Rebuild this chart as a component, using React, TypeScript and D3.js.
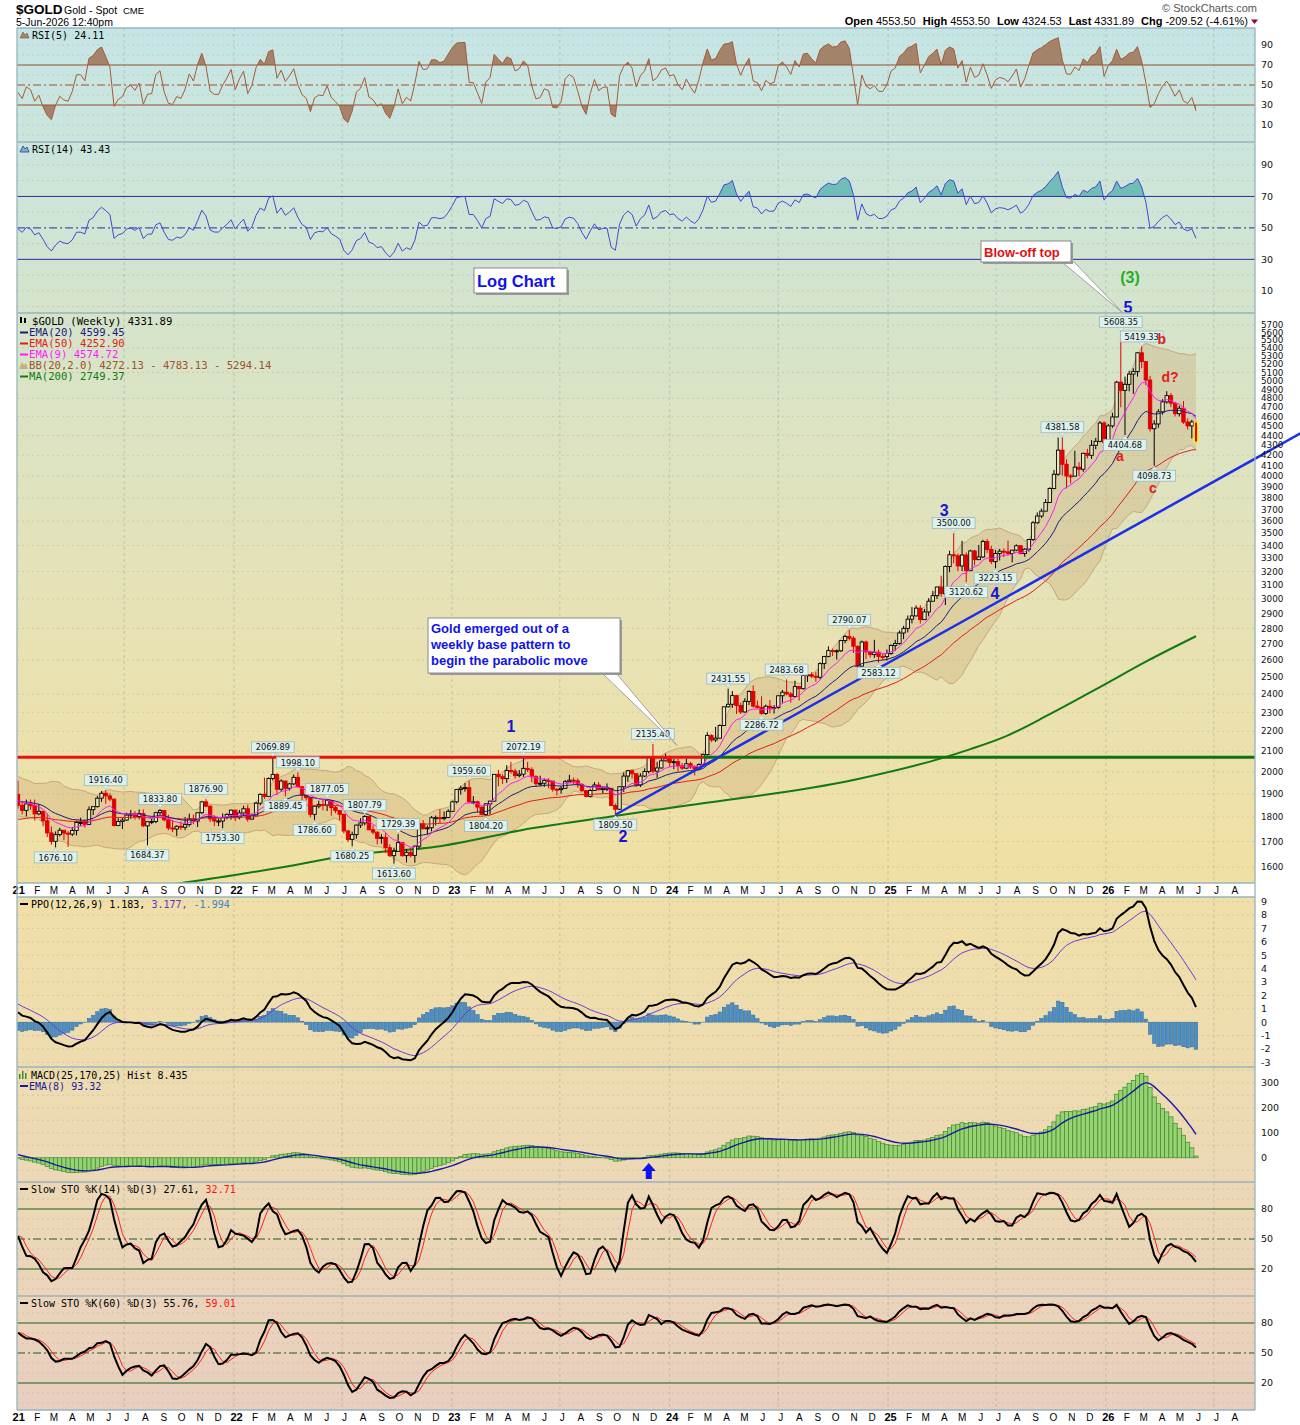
import React from "react";
import * as d3 from "d3";

// weekly bars, bar 0 = week ending Fri 8-Jan-2021, last bar = week ending 5-Jun-2026
// 2020 weekly closes only feed the indicator warm-up
const warmupCloses = [
  1552, 1562, 1557, 1571, 1589, 1570, 1584, 1643, 1585, 1674, 1530, 1498, 1617, 1620, 1683, 1683, 1729, 1700,
  1702, 1743, 1735, 1730, 1685, 1730, 1743, 1771, 1775, 1798, 1810, 1902, 1975, 2035, 1944, 1940, 1964, 1934,
  1940, 1950, 1861, 1900, 1930, 1899, 1902, 1879, 1951, 1889, 1871, 1788, 1839, 1839, 1881, 1877, 1898,
];

const closes = [
  // 2021
  1850, 1828, 1856, 1848, 1813, 1824, 1784, 1734, 1700, 1727, 1745, 1733, 1729, 1744, 1777, 1777, 1769, 1831,
  1844, 1881, 1903, 1891, 1877, 1764, 1781, 1787, 1808, 1812, 1802, 1814, 1763, 1780, 1781, 1818, 1827, 1788,
  1754, 1750, 1761, 1757, 1768, 1792, 1783, 1818, 1865, 1846, 1792, 1783, 1783, 1798, 1811, 1829,
  // 2022
  1797, 1817, 1835, 1791, 1808, 1859, 1898, 1889, 1970, 1988, 1921, 1958, 1925, 1945, 1975, 1932, 1897, 1883,
  1811, 1846, 1853, 1851, 1871, 1840, 1827, 1811, 1742, 1708, 1727, 1766, 1775, 1802, 1747, 1737, 1712, 1716,
  1675, 1644, 1661, 1695, 1644, 1657, 1645, 1681, 1771, 1751, 1755, 1797, 1797, 1793, 1798, 1824,
  // 2023
  1865, 1920, 1926, 1928, 1865, 1865, 1842, 1811, 1856, 1868, 1989, 1978, 1969, 2007, 2004, 1983, 1990, 2017,
  2011, 1978, 1946, 1948, 1961, 1958, 1921, 1919, 1925, 1955, 1962, 1959, 1943, 1914, 1889, 1915, 1940, 1919,
  1924, 1925, 1849, 1833, 1932, 1981, 2006, 1992, 1940, 1981, 2002, 2072, 2004, 2019, 2053, 2063,
  // 2024
  2045, 2049, 2029, 2018, 2039, 2024, 2013, 2035, 2083, 2179, 2156, 2165, 2230, 2330, 2344, 2392, 2337, 2302,
  2360, 2415, 2334, 2327, 2294, 2333, 2322, 2326, 2391, 2411, 2401, 2387, 2443, 2431, 2507, 2512, 2503, 2497,
  2578, 2622, 2658, 2653, 2657, 2721, 2747, 2736, 2685, 2563, 2712, 2650, 2633, 2648, 2622, 2621,
  // 2025
  2640, 2690, 2703, 2770, 2800, 2861, 2883, 2936, 2858, 2910, 2984, 3023, 3085, 3037, 3237, 3327, 3319, 3241,
  3325, 3205, 3357, 3289, 3310, 3432, 3368, 3274, 3337, 3355, 3350, 3337, 3363, 3398, 3336, 3371, 3448, 3586,
  3643, 3685, 3760, 3886, 4018, 4251, 4113, 4002, 4000, 4085, 4065, 4220, 4200, 4300, 4340, 4530,
  // 2026
  4330, 4500, 4595, 4985, 4890, 4960, 5080, 5110, 5340, 5230, 5010, 4470, 4520, 4650, 4760, 4830, 4745, 4630,
  4690, 4540, 4500, 4541.41, 4331.89,
];

const highs = [
  1959, 1865, 1875, 1875, 1875, 1855, 1826, 1815, 1760, 1740, 1755, 1745, 1741, 1758, 1785, 1797, 1790, 1845,
  1846, 1890, 1913, 1916.4, 1903, 1878, 1795, 1795, 1818, 1830, 1825, 1832, 1832, 1782, 1795, 1822, 1833.8, 1828,
  1809, 1788, 1765, 1781, 1800, 1814, 1810, 1820, 1869, 1876.9, 1849, 1808, 1793, 1815, 1815, 1831,
  1831, 1830, 1848, 1853, 1815, 1865, 1902, 1974, 1975, 2069.89, 1995, 1966, 1960, 1950, 1988, 1998.1, 1936, 1910,
  1884, 1849, 1870, 1874, 1877.05, 1870, 1847, 1829, 1814, 1745, 1739, 1768, 1795, 1807.79, 1802, 1765, 1740, 1729,
  1735, 1688, 1675, 1729.39, 1688, 1670, 1675, 1684, 1773, 1787, 1764, 1804, 1806, 1833, 1823, 1833,
  1870, 1922, 1937, 1949, 1959.6, 1890, 1870, 1845, 1858, 1870, 1989, 2010, 1989, 2032, 2048, 2015, 2009, 2072.19,
  2048, 2022, 1985, 1983, 1970, 1971, 1959, 1925, 1935, 1963, 1987, 1974, 1970, 1948, 1916, 1922, 1953, 1953,
  1933, 1947, 1926, 1857, 1933, 1997, 2010, 2010, 1975, 1994, 2017, 2075, 2135.4, 2048, 2071, 2088,
  2078, 2062, 2062, 2042, 2065, 2048, 2032, 2041, 2088, 2195, 2185, 2223, 2236, 2331, 2431.55, 2418, 2396, 2353,
  2378, 2422, 2450, 2364, 2388, 2342, 2368, 2339, 2392, 2424, 2483.68, 2412, 2477, 2437, 2509, 2531, 2528, 2529,
  2586, 2625, 2685, 2670, 2665, 2722, 2758, 2790.07, 2750, 2690, 2721, 2721, 2658, 2726, 2664, 2640,
  2665, 2697, 2726, 2786, 2817, 2886, 2943, 2955, 2956, 2930, 3005, 3057, 3087, 3168, 3245, 3358, 3500, 3336,
  3437, 3345, 3366, 3366, 3404, 3446, 3452, 3398, 3365, 3374, 3377, 3439, 3365, 3409, 3404, 3378, 3453, 3600,
  3674, 3707, 3791, 3897, 4059, 4379, 4381.58, 4161, 4020, 4245, 4132, 4225, 4264, 4353, 4375, 4550,
  4550, 4520, 4640, 5000, 5608.35, 5050, 5120, 5150, 5350, 5419.33, 5240, 5060, 4560, 4680, 4790, 4880, 4860, 4760,
  4720, 4770, 4580, 4565, 4553.5,
];

const lows = [
  1835, 1811, 1802, 1831, 1785, 1807, 1761, 1717, 1687, 1676.1, 1720, 1705, 1678, 1721, 1724, 1763, 1756, 1767,
  1808, 1840, 1865, 1856, 1867, 1761, 1770, 1750, 1783, 1792, 1789, 1790, 1758, 1684.37, 1770, 1774, 1808, 1782,
  1745, 1737, 1721, 1746, 1745, 1760, 1770, 1758, 1812, 1843, 1778, 1762, 1762, 1753.3, 1790, 1789,
  1782, 1790, 1805, 1780, 1788, 1808, 1850, 1878, 1889, 1960, 1895, 1910, 1889.45, 1915, 1940, 1930, 1872, 1850,
  1798, 1786.6, 1837, 1828, 1825, 1805, 1816, 1785, 1732, 1697, 1680.25, 1711, 1754, 1765, 1745, 1728, 1688, 1691,
  1654, 1639, 1613.6, 1660, 1640, 1618, 1637, 1617, 1672, 1749, 1728, 1740, 1765, 1773, 1785, 1795,
  1822, 1858, 1897, 1910, 1861, 1855, 1819, 1809, 1804.2, 1810, 1867, 1934, 1945, 1950, 1992, 1969, 1975, 1977,
  2000, 1952, 1932, 1935, 1932, 1925, 1910, 1893, 1901, 1922, 1951, 1942, 1928, 1910, 1885, 1884, 1913, 1915,
  1901, 1913, 1846, 1809.5, 1830, 1908, 1954, 1970, 1932, 1931, 1976, 1993, 1995, 1973, 2016, 2050,
  2024, 2013, 2002, 2010, 2015, 2015, 1984, 2009, 2030, 2078, 2146, 2146, 2163, 2229, 2326, 2324, 2291, 2291,
  2298, 2340, 2325, 2320, 2286.72, 2287, 2295, 2293, 2319, 2353, 2394, 2353, 2382, 2364, 2426, 2470, 2493, 2471,
  2485, 2546, 2616, 2625, 2603, 2649, 2704, 2722, 2643, 2536, 2560, 2605, 2614, 2613, 2583.12, 2599,
  2596, 2632, 2656, 2695, 2730, 2773, 2833, 2880, 2832, 2857, 2880, 2982, 3000, 3015, 2957, 3194, 3260, 3203,
  3202, 3120.62, 3205, 3245, 3287, 3302, 3340, 3255, 3223.15, 3283, 3309, 3324, 3268, 3355, 3331, 3311, 3351, 3436,
  3578, 3627, 3685, 3759, 3885, 4004, 4005, 3887, 3931, 3995, 4000, 4040, 4170, 4165, 4260, 4330,
  4270, 4320, 4480, 4590, 4700, 4404.68, 4880, 4850, 5050, 5150, 4950, 4440, 4098.73, 4480, 4620, 4740, 4700, 4600,
  4600, 4520, 4460, 4370, 4324.53,
];

// 200-week MA (week index / value)
const ma200Weeks = [36, 52, 64, 78, 101, 123, 142, 161, 200, 221, 228, 236, 247, 259, 270, 282];
const ma200Values = [1535, 1571, 1602, 1643, 1681, 1753, 1802, 1851, 1963, 2065, 2110, 2170, 2290, 2440, 2590, 2749];

// swing-point price tags: week index + high/low side
const tagWeeks = [9, 21, 31, 34, 45, 49, 61, 64, 67, 71, 74, 80, 83, 90, 91, 108, 112, 121, 143, 152, 170, 178, 184, 199, 206, 224, 227, 234, 250, 264, 265, 269, 272];
const tagSides = ["L", "H", "L", "H", "H", "L", "H", "L", "H", "L", "H", "L", "H", "L", "H", "H", "L", "H", "L", "H", "H", "L", "H", "H", "L", "H", "L", "L", "H", "H", "L", "H", "L"];

// Elliott wave / annotation labels (week, price, text)
const waveWeeks = [118, 144.8, 221.7, 233.9, 265.7, 266.2, 263.8, 273.8, 271.7, 275.8];
const wavePrices = [2227, 1721, 3695, 3040, 5945, 6379, 4193, 5516, 3891, 5046];
const waveTexts = ["1", "2", "3", "4", "5", "(3)", "a", "b", "c", "d?"];
const waveColors = ["#1616d8", "#1616d8", "#1616d8", "#1616d8", "#1616d8", "#22b022", "#e01e1e", "#e01e1e", "#e01e1e", "#e01e1e"];

const resistance = 2069.89;
const resistanceSwitchWeek = 164;
const trendWeeks = [143, 307];
const trendPrices = [1809.5, 4421];

const priceTicks = d3.range(1600, 5800, 100);
const rsiTicks = [90, 70, 50, 30, 10];
const ppoTicks = [9, 8, 7, 6, 5, 4, 3, 2, 1, 0, -1, -2, -3];
const macdTicks = [300, 200, 100, 0];
const stoTicks = [80, 50, 20];
const MONTH_LETTERS = ["J", "F", "M", "A", "M", "J", "J", "A", "S", "O", "N", "D"];

// ---------- indicators ----------
const W = warmupCloses.length;
const allC = warmupCloses.concat(closes);
const allH = warmupCloses.concat(highs);
const allL = warmupCloses.concat(lows);
const opens = closes.map((_, i) => allC[W + i - 1]);

function ema(v: number[], n: number, seed?: number) {
  const k = 2 / (n + 1);
  let e = seed ?? v[0];
  return v.map((x, i) => (i === 0 && seed === undefined ? e : (e = x * k + e * (1 - k))));
}
function sma(v: number[], n: number) {
  return v.map((_, i) => d3.mean(v.slice(Math.max(0, i - n + 1), i + 1)) as number);
}
function stdev(v: number[], n: number) {
  return v.map((_, i) => {
    const w = v.slice(Math.max(0, i - n + 1), i + 1);
    const m = d3.mean(w) as number;
    return Math.sqrt(d3.mean(w, (d) => (d - m) ** 2) as number);
  });
}
function rsi(v: number[], n: number) {
  const out = v.map(() => 50);
  let ag = 0, al = 0;
  for (let i = 1; i < v.length; i++) {
    const ch = v[i] - v[i - 1];
    const g = Math.max(ch, 0), l = Math.max(-ch, 0);
    if (i <= n) { ag += g / n; al += l / n; } else { ag = (ag * (n - 1) + g) / n; al = (al * (n - 1) + l) / n; }
    out[i] = al === 0 ? 100 : 100 - 100 / (1 + ag / al);
  }
  return out;
}
function stoch(n: number) {
  const fast = allC.map((c, i) => {
    const s = Math.max(0, i - n + 1);
    const hh = d3.max(allH.slice(s, i + 1)) as number;
    const ll = d3.min(allL.slice(s, i + 1)) as number;
    return hh === ll ? 50 : ((c - ll) / (hh - ll)) * 100;
  });
  const k = sma(fast, 3);
  return { k: k.slice(W), d: sma(k, 3).slice(W) };
}
const vis = (a: number[]) => a.slice(W);

const ema9 = vis(ema(allC, 9));
const ema20 = vis(ema(allC, 20));
const ema50 = vis(ema(allC, 50, 1440));
const mid20 = sma(allC, 20);
const dev20 = stdev(allC, 20);
const bbUp = vis(mid20.map((m, i) => m + 2 * dev20[i]));
const bbLo = vis(mid20.map((m, i) => m - 2 * dev20[i]));
const rsi5 = vis(rsi(allC, 5));
const rsi14 = vis(rsi(allC, 14));
const e12 = ema(allC, 12);
const e26 = ema(allC, 26);
const ppoAll = e12.map((a, i) => ((a - e26[i]) / e26[i]) * 100);
const ppoSigAll = ema(ppoAll, 9);
const ppo = vis(ppoAll);
const ppoSig = vis(ppoSigAll);
const ppoHist = ppo.map((p, i) => p - ppoSig[i]);
const e25 = ema(allC, 25, 1480);
const e170 = ema(allC, 170, 1320);
const macdAll = e25.map((a, i) => a - e170[i]);
const macdSig = ema(macdAll, 25);
const histAll = macdAll.map((m, i) => m - macdSig[i]);
const macdHist = vis(histAll);
const macdHistEma = vis(ema(histAll, 8));
const sto14 = stoch(14);
const sto60 = stoch(60);

// ---------- layout ----------
const L = 17, R = 1255;
const P = {
  rsi5: [28, 142], rsi14: [142, 313], main: [313, 883], ppo: [897, 1067],
  macd: [1067, 1182], sto14: [1182, 1296], sto60: [1296, 1410],
};
const x = d3.scaleLinear().domain([0, 282]).range([18, 1196]);
const yP = d3.scaleLog().domain([1542, 5862]).range([883, 313]);
const yR5 = d3.scaleLinear().domain([-7, 107]).range([142, 28]);
const yR14 = d3.scaleLinear().domain([-4.1, 104.6]).range([313, 142]);
const yPPO = d3.scaleLinear().domain([-3.35, 9.35]).range([1067, 897]);
const yMACD = d3.scaleLinear().domain([-97, 363]).range([1182, 1067]);
const yS14 = d3.scaleLinear().domain([-7, 107]).range([1296, 1182]);
const yS60 = d3.scaleLinear().domain([-7, 107]).range([1410, 1296]);

const idx = d3.range(closes.length);
const weekW = x(1) - x(0);
const path = (vals: number[], ys: any) => d3.line<number>().x((i) => x(i)).y((i) => ys(vals[i]))(idx) as string;

const T0 = Date.UTC(2021, 0, 4);
const months = d3.range(0, 68).map((m) => {
  const yr = 2021 + Math.floor(m / 12);
  const mo = m % 12;
  const w = (Date.UTC(yr, mo, 1) - T0) / (7 * 86400000);
  return { x: x(w), label: mo === 0 ? String(yr % 100) : MONTH_LETTERS[mo], year: mo === 0, half: mo === 0 || mo === 6 };
});

const MONO = "DejaVu Sans Mono";
const SANS = "DejaVu Sans";
const ARIAL = "Liberation Sans";

function RightTicks({ ticks, ys, size = 9.5 }: any) {
  return (
    <g fontFamily={SANS} fontSize={size} fill="#111">
      {ticks.map((t: number) => (
        <text key={t} x={1261} y={ys(t) + size * 0.36}>{t}</text>
      ))}
    </g>
  );
}

function HLines({ vals, ys, color, dash }: any) {
  return (
    <g>
      {vals.map((v: number) => (
        <line key={v} x1={L} x2={R} y1={ys(v)} y2={ys(v)} stroke={color} strokeWidth={1} strokeDasharray={dash} />
      ))}
    </g>
  );
}

function DotGrid({ vals, ys }: any) {
  return (
    <g>
      {vals.map((v: number) => (
        <line key={v} x1={L} x2={R} y1={ys(v)} y2={ys(v)} stroke="#8a8a80" strokeOpacity={0.35} strokeWidth={0.7} strokeDasharray="2,3" />
      ))}
    </g>
  );
}

function VGrid({ top, bottom }: any) {
  return (
    <g>
      {months.filter((m) => m.half && m.x > L + 2 && m.x < R).map((m, i) => (
        <line key={i} x1={m.x} x2={m.x} y1={top} y2={bottom} stroke="#8c9c98" strokeOpacity={0.55} strokeWidth={0.8} strokeDasharray="3,3" />
      ))}
    </g>
  );
}

function MonthAxis({ y }: any) {
  return (
    <g fontFamily={ARIAL} fill="#000" textAnchor="middle">
      {months.filter((m) => m.x > L - 4 && m.x < R).map((m, i) => (
        <text key={i} x={m.x + 2.5} y={y} fontWeight={m.year ? "bold" : "normal"} fontSize={m.year ? 11 : 10}>{m.label}</text>
      ))}
    </g>
  );
}

function PriceTag({ w, side }: any) {
  const v = side === "H" ? highs[w] : lows[w];
  const cx = x(w);
  const y = yP(v);
  const txt = v.toFixed(2);
  const bw = txt.length * 5.25 + 6;
  const bh = 11;
  const top = side === "H" ? y - 4.5 - bh : y + 4.5;
  const tri = side === "H"
    ? `${cx - 3.5},${y - 4.5} ${cx + 3.5},${y - 4.5} ${cx},${y - 1}`
    : `${cx - 3.5},${y + 4.5} ${cx + 3.5},${y + 4.5} ${cx},${y + 1}`;
  return (
    <g>
      <rect x={cx - bw / 2} y={top} width={bw} height={bh} fill="#ddf1ef" stroke="#9fb8b6" strokeWidth={0.8} />
      <polygon points={tri} fill="#ddf1ef" stroke="#9fb8b6" strokeWidth={0.6} />
      <text x={cx} y={top + 8.6} textAnchor="middle" fontFamily={SANS} fontSize={8.3} fill="#111">{txt}</text>
    </g>
  );
}

export default function App() {
  const gradStops: [number, string][] = [
    [28, "#c5e5e5"], [142, "#cbe5dd"], [313, "#d5e4cb"], [600, "#e6e2b6"], [883, "#f1e0a4"],
    [897, "#f0dfa8"], [1067, "#eedcb0"], [1182, "#ecd8b6"], [1296, "#ebd4ba"], [1410, "#e8cebf"],
  ];

  const mainClip = "url(#cMain)";
  const bbArea = d3.area<number>().x((i) => x(i)).y0((i) => yP(bbLo[i])).y1((i) => yP(bbUp[i]))(idx) as string;
  const ma200Path = d3.line<number>().curve(d3.curveMonotoneX).x((i) => x(ma200Weeks[i])).y((i) => yP(ma200Values[i]))(d3.range(ma200Weeks.length)) as string;

  const rsiArea = (vals: number[], ys: any, lvl: number) =>
    d3.area<number>().x((i) => x(i)).y0(ys(lvl)).y1((i) => ys(vals[i]))(idx) as string;

  const gridPrices: number[] = [];
  priceTicks.forEach((p) => {
    const last = gridPrices[gridPrices.length - 1];
    if (last === undefined || yP(last) - yP(p) >= 18) gridPrices.push(p);
  });

  const last = closes.length - 1;

  return (
    <svg width={1300} height={1425} style={{ position: "absolute", left: 0, top: 0, background: "#fff" }} fontFamily={SANS}>
      <defs>
        <linearGradient id="bg" gradientUnits="userSpaceOnUse" x1={0} y1={28} x2={0} y2={1410}>
          {gradStops.map(([y, c]) => (
            <stop key={y} offset={(y - 28) / 1382} stopColor={c} />
          ))}
        </linearGradient>
        {Object.entries(P).map(([k, [t, b]]) => (
          <clipPath id={"c" + k[0].toUpperCase() + k.slice(1)} key={k}>
            <rect x={L} y={t} width={R - L} height={b - t} />
          </clipPath>
        ))}
        <clipPath id="r5hi"><rect x={L} y={28} width={R - L} height={yR5(70) - 28} /></clipPath>
        <clipPath id="r5lo"><rect x={L} y={yR5(30)} width={R - L} height={142 - yR5(30)} /></clipPath>
        <clipPath id="r14hi"><rect x={L} y={142} width={R - L} height={yR14(70) - 142} /></clipPath>
        <clipPath id="r14lo"><rect x={L} y={yR14(30)} width={R - L} height={313 - yR14(30)} /></clipPath>
      </defs>

      {/* header */}
      <text x={16} y={14} fontFamily={ARIAL} fontWeight="bold" fontSize={13.5}>$GOLD</text>
      <text x={64} y={14} fontFamily={ARIAL} fontSize={10.5}>Gold - Spot</text>
      <text x={123} y={14} fontFamily={ARIAL} fontSize={9.5}>CME</text>
      <text x={16} y={26} fontFamily={ARIAL} fontSize={10.5}>5-Jun-2026 12:40pm</text>
      <text x={1257} y={12} textAnchor="end" fontFamily={ARIAL} fontSize={11} fill="#555">© StockCharts.com</text>
      <text x={1248} y={25} textAnchor="end" fontFamily={ARIAL} fontSize={11}>
        <tspan fontWeight="bold">Open</tspan><tspan dx={3}>4553.50</tspan>
        <tspan dx={7} fontWeight="bold">High</tspan><tspan dx={3}>4553.50</tspan>
        <tspan dx={7} fontWeight="bold">Low</tspan><tspan dx={3}>4324.53</tspan>
        <tspan dx={7} fontWeight="bold">Last</tspan><tspan dx={3}>4331.89</tspan>
        <tspan dx={7} fontWeight="bold">Chg</tspan><tspan dx={3}>-209.52 (-4.61%)</tspan>
      </text>
      <polygon points="1251,19.5 1258,19.5 1254.5,24" fill="#990033" />

      {/* panel background */}
      <rect x={L} y={28} width={R - L} height={1382} fill="url(#bg)" />
      <rect x={L} y={883} width={R - L} height={14} fill="#fff" />
      <rect x={L} y={1410} width={R - L} height={15} fill="#fff" />

      {/* grids */}
      {[P.rsi5, P.rsi14, P.main, P.ppo, P.macd, P.sto14, P.sto60].map(([t, b], i) => (
        <VGrid key={i} top={t} bottom={b} />
      ))}
      <DotGrid vals={[0, 10, 20, 40, 60, 80, 90, 100]} ys={yR5} />
      <DotGrid vals={[0, 10, 20, 40, 60, 80, 90, 100]} ys={yR14} />
      <DotGrid vals={gridPrices} ys={yP} />
      <DotGrid vals={[9, 8, 7, 6, 5, 4, 3, 2, 1, -1, -2, -3]} ys={yPPO} />
      <DotGrid vals={[350, 300, 250, 200, 150, 100, 50, -50]} ys={yMACD} />
      <DotGrid vals={[0, 10, 30, 40, 60, 70, 90, 100]} ys={yS14} />
      <DotGrid vals={[0, 10, 30, 40, 60, 70, 90, 100]} ys={yS60} />

      {/* RSI(5) */}
      <g clipPath="url(#cRsi5)">
        <path d={rsiArea(rsi5, yR5, 70)} fill="#a3836a" clipPath="url(#r5hi)" />
        <path d={rsiArea(rsi5, yR5, 30)} fill="#a3836a" clipPath="url(#r5lo)" />
        <HLines vals={[70, 30]} ys={yR5} color="#9c4f2c" />
        <HLines vals={[50]} ys={yR5} color="#9c4f2c" dash="8,3,2,3" />
        <path d={path(rsi5, yR5)} fill="none" stroke="#a65a38" strokeWidth={1} />
      </g>
      <RightTicks ticks={rsiTicks} ys={yR5} />
      <polygon points="20,38 23,32 25,35 27,33 29,38" fill="#a3836a" stroke="#7a5030" strokeWidth={0.6} />
      <text x={32} y={39} fontFamily={MONO} fontSize={10}>RSI(5) 24.11</text>

      {/* RSI(14) */}
      <g clipPath="url(#cRsi14)">
        <path d={rsiArea(rsi14, yR14, 70)} fill="#6fbdb6" clipPath="url(#r14hi)" />
        <path d={rsiArea(rsi14, yR14, 30)} fill="#6fbdb6" clipPath="url(#r14lo)" />
        <HLines vals={[70, 30]} ys={yR14} color="#2b2ba6" />
        <HLines vals={[50]} ys={yR14} color="#2b2ba6" dash="8,3,2,3" />
        <path d={path(rsi14, yR14)} fill="none" stroke="#4646d6" strokeWidth={1} />
      </g>
      <RightTicks ticks={rsiTicks} ys={yR14} />
      <polygon points="20,152 23,146 25,149 27,147 29,152" fill="#6fbdb6" stroke="#3030c0" strokeWidth={0.8} />
      <text x={32} y={153} fontFamily={MONO} fontSize={10}>RSI(14) 43.43</text>

      {/* main price panel */}
      <g clipPath={mainClip}>
        <path d={bbArea} fill="#c39d62" fillOpacity={0.27} stroke="none" />
        <path d={path(bbUp, yP)} fill="none" stroke="#c2a07a" strokeWidth={0.9} />
        <path d={path(bbLo, yP)} fill="none" stroke="#c2a07a" strokeWidth={0.9} />
        <path d={ma200Path} fill="none" stroke="#137a13" strokeWidth={2} />
        {idx.map((i) => {
          const up = closes[i] >= opens[i];
          const col = up ? "#000" : "#e00000";
          const yt = yP(Math.max(opens[i], closes[i]));
          const yb = yP(Math.min(opens[i], closes[i]));
          return (
            <g key={i}>
              <line x1={x(i)} x2={x(i)} y1={yP(highs[i])} y2={yP(lows[i])} stroke={col} strokeWidth={1} />
              <rect x={x(i) - 1.7} y={yt} width={3.4} height={Math.max(1, yb - yt)}
                fill={up ? "#efe6bf" : "#e00000"} stroke={i === last ? "#ffee00" : col} strokeWidth={i === last ? 1.4 : 0.9} />
            </g>
          );
        })}
        <path d={path(ema50, yP)} fill="none" stroke="#e21b1b" strokeWidth={1} />
        <path d={path(ema20, yP)} fill="none" stroke="#1c1c7e" strokeWidth={1} />
        <path d={path(ema9, yP)} fill="none" stroke="#ff1aff" strokeWidth={1} />
        <line x1={L} x2={x(resistanceSwitchWeek)} y1={yP(resistance)} y2={yP(resistance)} stroke="#ee1010" strokeWidth={3} />
        <line x1={x(resistanceSwitchWeek)} x2={R} y1={yP(resistance)} y2={yP(resistance)} stroke="#0e720e" strokeWidth={3} />
      </g>
      <line x1={x(trendWeeks[0])} y1={yP(trendPrices[0])} x2={x(trendWeeks[1])} y2={yP(trendPrices[1])} stroke="#1b2fe8" strokeWidth={2.5} />
      <g clipPath={mainClip}>
        {tagWeeks.map((w, i) => (
          <PriceTag key={i} w={w} side={tagSides[i]} />
        ))}
      </g>
      <RightTicks ticks={priceTicks} ys={yP} size={8.8} />

      {/* wave labels */}
      {waveTexts.map((t, i) => (
        <text key={i} x={x(waveWeeks[i])} y={yP(wavePrices[i])} dy="0.35em" textAnchor="middle"
          fontFamily={ARIAL} fontWeight="bold" fontSize={i < 6 ? 16 : 14} fill={waveColors[i]}>{t}</text>
      ))}

      {/* annotations */}
      <rect x={476} y={270} width={93} height={25} fill="#9a9a9a" />
      <rect x={474} y={268} width={93} height={25} fill="#fff" stroke="#8a8a8a" strokeWidth={1} />
      <text x={477} y={287} fontFamily={ARIAL} fontWeight="bold" fontSize={16.5} fill="#1212e6">Log Chart</text>

      <polygon points={`1062,262 1074,262 ${x(264.5)},313`} fill="#fff" stroke="#999" strokeWidth={0.9} />
      <rect x={983} y={243} width={90} height={21} fill="#9a9a9a" />
      <rect x={981} y={241} width={90} height={21} fill="#fff" stroke="#8a8a8a" strokeWidth={1} />
      <text x={984} y={256.5} fontFamily={ARIAL} fontWeight="bold" fontSize={13} fill="#e01010">Blow-off top</text>

      <polygon points={`602,673 616,673 ${x(157.8)},${yP(2128)}`} fill="#fff" stroke="#999" strokeWidth={0.9} />
      <rect x={430} y={620} width={192} height={55} fill="#9a9a9a" />
      <rect x={428} y={618} width={192} height={55} fill="#fff" stroke="#8a8a8a" strokeWidth={1} />
      <g fontFamily={ARIAL} fontWeight="bold" fontSize={13} fill="#1212e6">
        <text x={431} y={632.5}>Gold emerged out of a</text>
        <text x={431} y={648.5}>weekly base pattern to</text>
        <text x={431} y={664.5}>begin the parabolic move</text>
      </g>

      {/* main legend */}
      <g fontFamily={MONO} fontSize={10.6}>
        <rect x={20} y={317} width={2} height={6} fill="#000" />
        <rect x={24} y={318} width={2} height={5} fill="#000" />
        <text x={32} y={324.5}>$GOLD (Weekly) 4331.89</text>
        <rect x={20} y={331.5} width={8} height={2} fill="#1c1c7e" />
        <text x={29} y={335.5} fill="#1c1c7e">EMA(20) 4599.45</text>
        <rect x={20} y={342.5} width={8} height={2} fill="#e21b1b" />
        <text x={29} y={346.5} fill="#e21b1b">EMA(50) 4252.90</text>
        <rect x={20} y={353.5} width={8} height={2} fill="#ff1aff" />
        <text x={29} y={357.5} fill="#ff1aff">EMA(9) 4574.72</text>
        <polygon points="19,369 22,362 24,365 26,363 28,369" fill="#c8ad86" />
        <text x={29} y={368.5} fill="#a0522d">BB(20,2.0) 4272.13 - 4783.13 - 5294.14</text>
        <rect x={20} y={375.5} width={8} height={2} fill="#137a13" />
        <text x={29} y={379.5} fill="#137a13">MA(200) 2749.37</text>
      </g>

      <MonthAxis y={894} />

      {/* PPO */}
      <g clipPath="url(#cPpo)">
        {idx.map((i) => (
          <rect key={i} x={x(i) - 1.7} width={3.4} y={Math.min(yPPO(0), yPPO(ppoHist[i]))}
            height={Math.abs(yPPO(ppoHist[i]) - yPPO(0))} fill="#4f8ec2" stroke="#2d6a9c" strokeWidth={0.5} />
        ))}
        <path d={path(ppoSig, yPPO)} fill="none" stroke="#6a3cd8" strokeWidth={1} />
        <path d={path(ppo, yPPO)} fill="none" stroke="#000" strokeWidth={2} />
      </g>
      <RightTicks ticks={ppoTicks} ys={yPPO} />
      <g fontFamily={MONO} fontSize={10}>
        <rect x={20} y={903} width={8} height={2} fill="#000" />
        <text x={31} y={908}>PPO(12,26,9) 1.183,<tspan fill="#5a36d0"> 3.177,</tspan><tspan fill="#3a86c8"> -1.994</tspan></text>
      </g>

      {/* MACD histogram */}
      <g clipPath="url(#cMacd)">
        {idx.map((i) => (
          <rect key={i} x={x(i) - weekW / 2} width={weekW} y={Math.min(yMACD(0), yMACD(macdHist[i]))}
            height={Math.abs(yMACD(macdHist[i]) - yMACD(0))} fill="#97d273" stroke="#3f8a2c" strokeWidth={0.7} />
        ))}
        <path d={path(macdHistEma, yMACD)} fill="none" stroke="#1a1aa0" strokeWidth={1.4} />
      </g>
      <RightTicks ticks={macdTicks} ys={yMACD} />
      <g fontFamily={MONO} fontSize={10}>
        <rect x={19} y={1074} width={1.5} height={5} fill="#3f8a2c" />
        <rect x={22} y={1071} width={1.5} height={8} fill="#3f8a2c" />
        <rect x={25} y={1073} width={1.5} height={6} fill="#3f8a2c" />
        <text x={31} y={1079}>MACD(25,170,25) Hist 8.435</text>
        <rect x={20} y={1085} width={8} height={2} fill="#1a1aa0" />
        <text x={29} y={1090} fill="#1a1aa0">EMA(8) 93.32</text>
      </g>
      <polygon
        points={`${x(151)},1163 ${x(151) + 7},1171 ${x(151) + 3},1171 ${x(151) + 3},1179 ${x(151) - 3},1179 ${x(151) - 3},1171 ${x(151) - 7},1171`}
        fill="#1010f0" />

      {/* Slow STO 14 */}
      <g clipPath="url(#cSto14)">
        <HLines vals={[80, 20]} ys={yS14} color="#1b5e1b" />
        <HLines vals={[50]} ys={yS14} color="#1b5e1b" dash="8,3,2,3" />
        <path d={path(sto14.d, yS14)} fill="none" stroke="#ff2020" strokeWidth={1} />
        <path d={path(sto14.k, yS14)} fill="none" stroke="#000" strokeWidth={2} />
      </g>
      <RightTicks ticks={stoTicks} ys={yS14} />
      <g fontFamily={MONO} fontSize={10}>
        <rect x={20} y={1188} width={8} height={2} fill="#000" />
        <text x={31} y={1193}>Slow STO %K(14) %D(3) 27.61,<tspan fill="#ff1010"> 32.71</tspan></text>
      </g>

      {/* Slow STO 60 */}
      <g clipPath="url(#cSto60)">
        <HLines vals={[80, 20]} ys={yS60} color="#1b5e1b" />
        <HLines vals={[50]} ys={yS60} color="#1b5e1b" dash="8,3,2,3" />
        <path d={path(sto60.d, yS60)} fill="none" stroke="#ff2020" strokeWidth={1} />
        <path d={path(sto60.k, yS60)} fill="none" stroke="#000" strokeWidth={2} />
      </g>
      <RightTicks ticks={stoTicks} ys={yS60} />
      <g fontFamily={MONO} fontSize={10}>
        <rect x={20} y={1302} width={8} height={2} fill="#000" />
        <text x={31} y={1307}>Slow STO %K(60) %D(3) 55.76,<tspan fill="#ff1010"> 59.01</tspan></text>
      </g>

      <MonthAxis y={1421} />

      {/* panel borders */}
      {[28, 142, 313, 883, 897, 1067, 1182, 1296, 1410].map((y) => (
        <line key={y} x1={L} x2={R} y1={y} y2={y} stroke="#99b3bc" strokeWidth={1.3} />
      ))}
      <line x1={L} x2={L} y1={28} y2={1410} stroke="#99b3bc" strokeWidth={1.3} />
      <line x1={R} x2={R} y1={28} y2={1410} stroke="#99b3bc" strokeWidth={1.3} />
    </svg>
  );
}
